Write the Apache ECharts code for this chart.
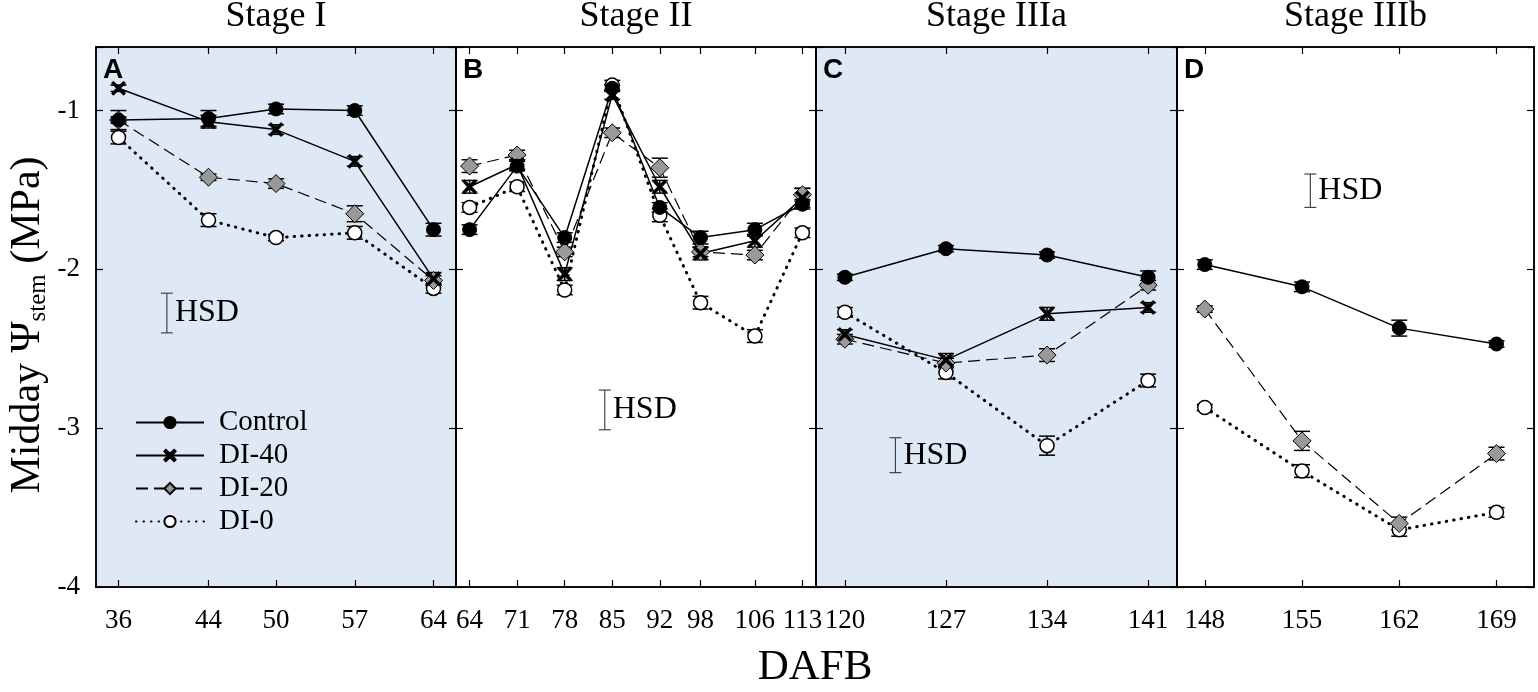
<!DOCTYPE html>
<html>
<head>
<meta charset="utf-8">
<script src="https://cdn.jsdelivr.net/npm/echarts@6/dist/echarts.min.js"></script>
<style>
html,body{margin:0;padding:0;background:#fff;}
#chart{width:1538px;height:692px;}
</style>
</head>
<body>
<div id="chart"></div>
<script>
// days after full bloom, per stage
var daysA = [36, 44, 50, 57, 64],
	daysB = [64, 71, 78, 85, 92, 98, 106, 113],
	daysC = [120, 127, 134, 141],
	daysD = [148, 155, 162, 169];

// midday stem water potential (MPa) and error bars
var ctrlA = [-1.06, -1.05, -0.99, -1.00, -1.75],
	ctrlAErr = [0.02, 0.05, 0.03, 0.03, 0.04],
	di40A = [-0.86, -1.07, -1.12, -1.32, -2.06],
	di40AErr = [0.02, 0.04, 0.03, 0.03, 0.04],
	di20A = [-1.06, -1.42, -1.46, -1.65, -2.07],
	di20AErr = [0.06, 0.02, 0.03, 0.05, 0.03],
	di0A = [-1.17, -1.69, -1.80, -1.77, -2.12],
	di0AErr = [0.04, 0.04, 0.02, 0.04, 0.03];

var ctrlB = [-1.75, -1.35, -1.80, -0.86, -1.61, -1.80, -1.75, -1.59],
	ctrlBErr = [0.03, 0.03, 0.03, 0.02, 0.03, 0.04, 0.04, 0.03],
	di40B = [-1.48, -1.34, -2.03, -0.90, -1.48, -1.90, -1.82, -1.55],
	di40BErr = [0.04, 0.03, 0.04, 0.03, 0.04, 0.04, 0.04, 0.06],
	di20B = [-1.35, -1.28, -1.89, -1.14, -1.36, -1.89, -1.91, -1.53],
	di20BErr = [0.04, 0.03, 0.03, 0.03, 0.06, 0.03, 0.03, 0.04],
	di0B = [-1.61, -1.48, -2.13, -0.84, -1.66, -2.21, -2.42, -1.77],
	di0BErr = [0.03, 0.03, 0.03, 0.03, 0.04, 0.04, 0.04, 0.03];

var ctrlC = [-2.05, -1.87, -1.91, -2.05],
	ctrlCErr = [0.02, 0.02, 0.02, 0.04],
	di40C = [-2.41, -2.57, -2.28, -2.24],
	di40CErr = [0.03, 0.04, 0.04, 0.03],
	di20C = [-2.44, -2.59, -2.54, -2.10],
	di20CErr = [0.03, 0.03, 0.04, 0.03],
	di0C = [-2.27, -2.65, -3.11, -2.70],
	di0CErr = [0.03, 0.04, 0.06, 0.04];

var ctrlD = [-1.97, -2.11, -2.37, -2.47],
	ctrlDErr = [0.03, 0.03, 0.05, 0.02],
	di20D = [-2.25, -3.08, -3.60, -3.16],
	di20DErr = [0.02, 0.06, 0.04, 0.04],
	di0D = [-2.87, -3.27, -3.64, -3.53],
	di0DErr = [0.02, 0.04, 0.04, 0.03];

// HSD bar per panel: x, top, bottom
var hsdX = [40.3, 83.9, 123.5, 155.6],
	hsdTop = [-2.15, -2.76, -3.06, -1.40],
	hsdBottom = [-2.40, -3.01, -3.28, -1.61];

var stageNames = ['Stage I', 'Stage II', 'Stage IIIa', 'Stage IIIb'],
	panelLetters = ['A', 'B', 'C', 'D'],
	yTicks = [-4, -3, -2, -1];

var SERIF = '"Liberation Serif", "Times New Roman", serif',
	SANS = '"Liberation Sans", Arial, sans-serif',
	X_PATH = 'path://M0,1.3 L1.3,0 L5,3.4 L8.7,0 L10,1.3 L6.6,5 L10,8.7 L8.7,10 L5,6.6 L1.3,10 L0,8.7 L3.4,5 Z';

var panels = [
	{days: daysA, min: 34, max: 66, left: 96, width: 360, bg: '#dfe9f5',
		ctrl: [ctrlA, ctrlAErr], di40: [di40A, di40AErr], di20: [di20A, di20AErr], di0: [di0A, di0AErr]},
	{days: daysB, min: 62, max: 115, left: 456, width: 360, bg: '#ffffff',
		ctrl: [ctrlB, ctrlBErr], di40: [di40B, di40BErr], di20: [di20B, di20BErr], di0: [di0B, di0BErr]},
	{days: daysC, min: 118, max: 143, left: 816, width: 361, bg: '#dfe9f5',
		ctrl: [ctrlC, ctrlCErr], di40: [di40C, di40CErr], di20: [di20C, di20CErr], di0: [di0C, di0CErr]},
	{days: daysD, min: 146, max: 171.7, left: 1177, width: 357, bg: '#ffffff',
		ctrl: [ctrlD, ctrlDErr], di40: null, di20: [di20D, di20DErr], di0: [di0D, di0DErr]}
];

var styles = {
	ctrl: {name: 'Control', symbol: 'circle', size: 14,
		item: {color: '#000', borderColor: '#000', borderWidth: 1},
		line: {color: '#000', width: 1.5, type: 'solid'}},
	di40: {name: 'DI-40', symbol: X_PATH, size: 14,
		item: {color: '#000', borderColor: '#000', borderWidth: 0.8},
		line: {color: '#000', width: 1.5, type: 'solid'}},
	di20: {name: 'DI-20', symbol: 'diamond', size: 18,
		item: {color: '#999999', borderColor: '#000', borderWidth: 1},
		line: {color: '#000', width: 1.2, type: [12, 6]}},
	di0: {name: 'DI-0', symbol: 'circle', size: 14,
		item: {color: '#fff', borderColor: '#000', borderWidth: 1.5},
		line: {color: '#000', width: 3, type: [0.5, 7], cap: 'round'}}
};

var grids = [], xAxes = [], yAxes = [], series = [], graphics = [];

function errorBars(api){
	var x = api.value(0), y = api.value(1), e = api.value(2),
		top = api.coord([x, y + e]), bot = api.coord([x, y - e]),
		w = 8;
	return {
		type: 'group',
		children: [
			{type: 'line', shape: {x1: top[0], y1: top[1], x2: bot[0], y2: bot[1]}, style: {stroke: '#000', lineWidth: 1.5}},
			{type: 'line', shape: {x1: top[0]-w, y1: top[1], x2: top[0]+w, y2: top[1]}, style: {stroke: '#000', lineWidth: 1.5}},
			{type: 'line', shape: {x1: bot[0]-w, y1: bot[1], x2: bot[0]+w, y2: bot[1]}, style: {stroke: '#000', lineWidth: 1.5}}
		]
	};
}

function hsdMark(params, api){
	var x = api.value(0),
		top = api.coord([x, api.value(1)]), bot = api.coord([x, api.value(2)]),
		w = 6;
	return {
		type: 'group',
		children: [
			{type: 'line', shape: {x1: top[0], y1: top[1], x2: bot[0], y2: bot[1]}, style: {stroke: '#444', lineWidth: 1.2}},
			{type: 'line', shape: {x1: top[0]-w, y1: top[1], x2: top[0]+w, y2: top[1]}, style: {stroke: '#444', lineWidth: 1.2}},
			{type: 'line', shape: {x1: bot[0]-w, y1: bot[1], x2: bot[0]+w, y2: bot[1]}, style: {stroke: '#444', lineWidth: 1.2}},
			{type: 'text', x: top[0] + 8, y: (top[1] + bot[1]) / 2,
				style: {text: 'HSD', fill: '#000', font: '32px ' + SERIF, verticalAlign: 'middle', align: 'left'}}
		]
	};
}

panels.forEach(function(p, i){
	grids.push({left: p.left, top: 47, width: p.width, height: 540,
		show: true, backgroundColor: p.bg, borderColor: '#000', borderWidth: 1.5});

	var tickX = {show: true, inside: true, length: 7, lineStyle: {color: '#000', width: 1.2}, customValues: p.days};
	xAxes.push({type: 'value', gridIndex: i, position: 'bottom', min: p.min, max: p.max,
		axisLine: {show: true, onZero: false, lineStyle: {color: '#000', width: 1.5}},
		axisTick: tickX,
		axisLabel: {show: true, customValues: p.days, margin: 20, color: '#000', fontSize: 27, fontFamily: SERIF},
		splitLine: {show: false}});
	xAxes.push({type: 'value', gridIndex: i, position: 'top', min: p.min, max: p.max,
		axisLine: {show: true, onZero: false, lineStyle: {color: '#000', width: 1.5}},
		axisTick: tickX, axisLabel: {show: false}, splitLine: {show: false}});

	var tickY = {show: true, inside: true, length: 7, lineStyle: {color: '#000', width: 1.2}};
	yAxes.push({type: 'value', gridIndex: i, position: 'left', min: -4, max: -0.6, interval: 1,
		axisLine: {show: true, onZero: false, lineStyle: {color: '#000', width: 1.5}},
		axisTick: tickY,
		axisLabel: {show: i === 0, customValues: yTicks, margin: 16, color: '#000', fontSize: 27, fontFamily: SERIF},
		splitLine: {show: false}});
	yAxes.push({type: 'value', gridIndex: i, position: 'right', min: -4, max: -0.6, interval: 1,
		axisLine: {show: true, onZero: false, lineStyle: {color: '#000', width: 1.5}},
		axisTick: tickY, axisLabel: {show: false}, splitLine: {show: false}});

	['di0', 'di20', 'di40', 'ctrl'].forEach(function(key){
		if(!p[key]) return;
		var s = styles[key], vals = p[key][0], errs = p[key][1];
		series.push({
			name: s.name + '-err', type: 'custom', xAxisIndex: i * 2, yAxisIndex: i * 2, z: 2,
			renderItem: function(params, api){ return errorBars(api); },
			encode: {x: 0, y: 1},
			data: p.days.map(function(d, k){ return [d, vals[k], errs[k]]; }),
			silent: true
		});
		series.push({
			name: s.name, type: 'line', xAxisIndex: i * 2, yAxisIndex: i * 2, z: 3,
			symbol: s.symbol, symbolSize: s.size, showAllSymbol: true,
			itemStyle: s.item, lineStyle: s.line,
			data: p.days.map(function(d, k){ return [d, vals[k]]; }),
			animation: false
		});
	});

	series.push({
		name: 'HSD', type: 'custom', xAxisIndex: i * 2, yAxisIndex: i * 2, z: 4,
		renderItem: hsdMark,
		encode: {x: 0, y: 1},
		data: [[hsdX[i], hsdTop[i], hsdBottom[i]]],
		silent: true
	});

	graphics.push({type: 'text', x: p.left + p.width / 2, y: 17,
		style: {text: stageNames[i], font: '36px ' + SERIF, fill: '#000', align: 'center', verticalAlign: 'middle'}});
	graphics.push({type: 'text', x: p.left + 7, y: 56,
		style: {text: panelLetters[i], font: 'bold 28px ' + SANS, fill: '#000'}});
});

graphics.push({type: 'text', x: 815, y: 689,
	style: {text: 'DAFB', font: '43px ' + SERIF, fill: '#000', align: 'center', verticalAlign: 'bottom'}});
graphics.push({type: 'text', x: 28, y: 325, rotation: Math.PI / 2,
	style: {
		text: '{m|Midday Ψ}{s|stem}{m| (MPa)}',
		align: 'center', verticalAlign: 'middle',
		rich: {
			m: {font: '42px ' + SERIF, fill: '#000', lineHeight: 46},
			s: {font: '25px ' + SERIF, fill: '#000', lineHeight: 25, verticalAlign: 'bottom'}
		}
	}});

var chart = echarts.init(document.getElementById('chart'));
chart.setOption({
	animation: false,
	backgroundColor: '#fff',
	grid: grids,
	xAxis: xAxes,
	yAxis: yAxes,
	legend: {
		data: ['Control', 'DI-40', 'DI-20', 'DI-0'],
		orient: 'vertical', left: 130, top: 403,
		itemWidth: 68, itemHeight: 14, itemGap: 4,
		textStyle: {fontSize: 29, lineHeight: 29, fontFamily: SERIF, color: '#000', padding: [0, 0, 0, 10]},
		selectedMode: false
	},
	graphic: graphics,
	series: series
});
</script>
</body>
</html>
